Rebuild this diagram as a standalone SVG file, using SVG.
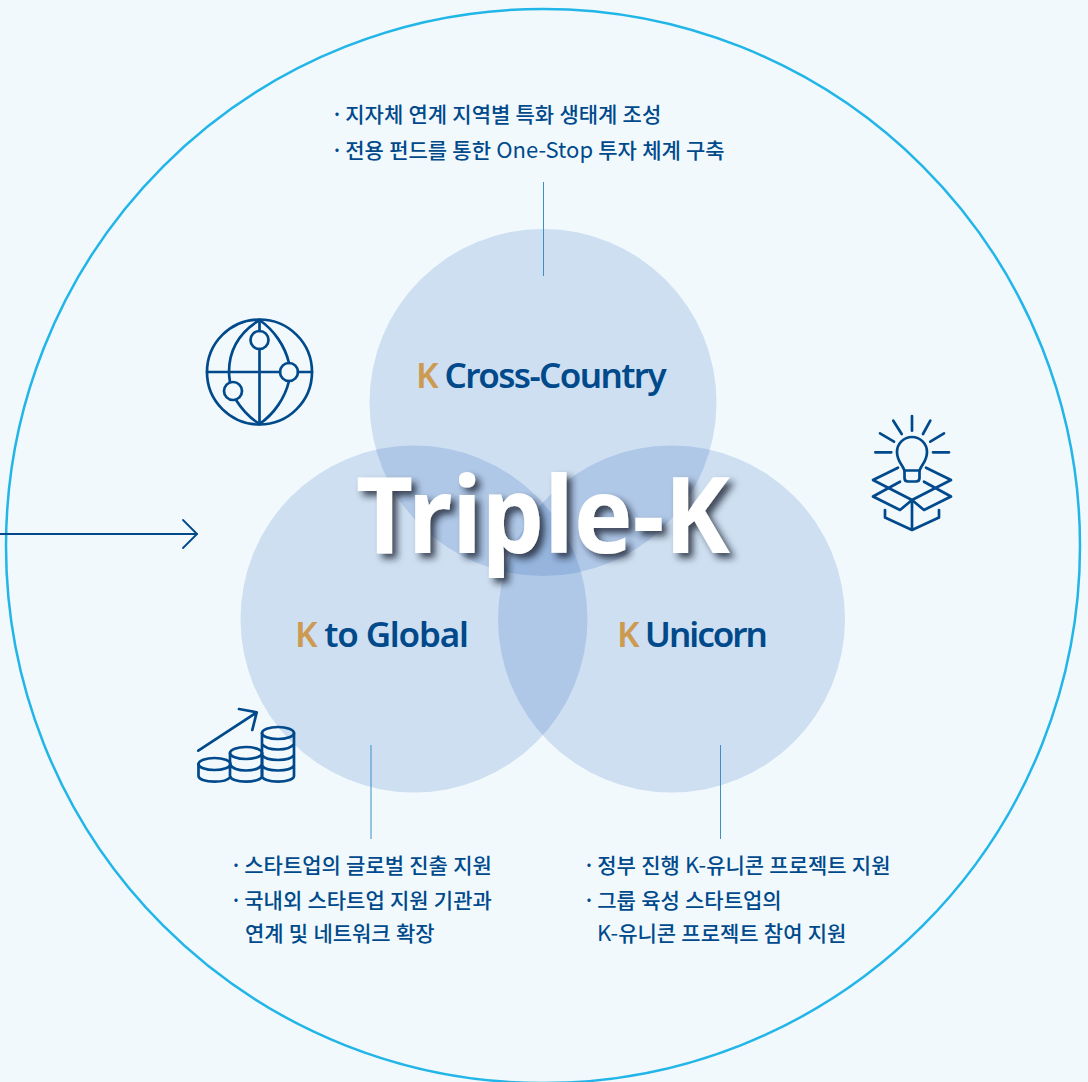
<svg xmlns="http://www.w3.org/2000/svg" width="1088" height="1082" viewBox="0 0 1088 1082">
<style>
.venn{fill:#0a4cad;fill-opacity:.15}
.ico{fill:none;stroke:#004a8c;stroke-width:2.7;stroke-linecap:round;stroke-linejoin:round}
.lead{stroke:#3b8fc6;stroke-width:1}
.t{font-family:"Noto Sans CJK KR","Noto Sans",sans-serif;font-size:21px;font-weight:500;fill:#004a8c;word-spacing:.5px}
.b{word-spacing:-2.500px}
.lat{font-weight:400;font-size:22px}
.h{font-family:"Noto Sans","Noto Sans CJK KR",sans-serif;font-size:35px;font-weight:600;fill:#004a8c;letter-spacing:-1.2px}
.k{fill:#cc9a50}
.title{font-family:"Noto Sans",sans-serif;font-size:106px;font-weight:700;fill:#fff}
</style>
<defs>
<filter id="sh" x="-10%" y="-20%" width="125%" height="150%"><feDropShadow dx="5" dy="5" stdDeviation="3.5" flood-color="#1a2430" flood-opacity=".8"/></filter>
</defs>
<rect width="1088" height="1082" fill="#f1f9fd"/>
<circle id="outer" cx="543" cy="546" r="537" fill="none" stroke="#22b5e8" stroke-width="2.5"/>
<g id="node-cross"><circle class="venn" cx="543" cy="402.500" r="173.500"/></g>
<g id="node-global"><circle class="venn" cx="414" cy="619" r="173.500"/></g>
<g id="node-unicorn"><circle class="venn" cx="671.500" cy="619" r="173.500"/></g>
<g id="connectors">
<line class="lead" x1="543.5" y1="182" x2="543.5" y2="276"/>
<line class="lead" x1="371" y1="745" x2="371" y2="839"/>
<line class="lead" x1="720.5" y1="745" x2="720.5" y2="839"/>
<g fill="none" stroke="#004a8c" stroke-width="1.8" stroke-linecap="round" stroke-linejoin="round"><path d="M0 534H197"/><path d="M183 520L197 534L183 548"/></g>
</g>
<g id="label-cross"><text class="h" x="416" y="388" style="letter-spacing:-1.6px"><tspan class="k">K</tspan> Cross-Country</text>
<text class="t" x="331" y="122"><tspan class="b">· </tspan>지자체 연계 지역별 특화 생태계 조성</text>
<text class="t" x="331" y="158"><tspan class="b">· </tspan>전용 펀드를 통한 <tspan class="lat">One-Stop</tspan> 투자 체계 구축</text></g>
<g id="label-global"><text class="h" x="295" y="647"><tspan class="k">K</tspan> to Global</text>
<text class="t" x="230" y="873"><tspan class="b">· </tspan>스타트업의 글로벌 진출 지원</text>
<text class="t" x="230" y="908"><tspan class="b">· </tspan>국내외 스타트업 지원 기관과</text>
<text class="t" x="245" y="941">연계 및 네트워크 확장</text></g>
<g id="label-unicorn"><text class="h" x="617" y="647" style="letter-spacing:-2px"><tspan class="k">K</tspan> Unicorn</text>
<text class="t" x="583" y="873"><tspan class="b">· </tspan>정부 진행 <tspan class="lat">K-</tspan>유니콘 프로젝트 지원</text>
<text class="t" x="583" y="908"><tspan class="b">· </tspan>그룹 육성 스타트업의</text>
<text class="t" x="597" y="941"><tspan class="lat">K-</tspan>유니콘 프로젝트 참여 지원</text></g>
<g id="title"><text class="title" x="356" y="553" textLength="374" lengthAdjust="spacingAndGlyphs" filter="url(#sh)">Triple-K</text></g>
<g id="icon-globe" class="ico">
<circle cx="259.500" cy="372" r="52.500"/>
<path d="M207 372H280M298 372H312"/>
<path d="M259.500 320V331M259.500 349V424"/>
<path d="M259.500 320C240 332 229 350 229 372C229 376 229.500 379 230 382M236 400C241 408 250 418 259.500 424"/>
<path d="M259.500 320C274 330 285 346 289 363M289 381C285 398 274 414 259.500 424"/>
<circle cx="259.500" cy="340" r="9"/><circle cx="289" cy="372" r="9"/><circle cx="233" cy="391" r="9"/>
</g>
<g id="icon-bulb" class="ico">
<path d="M912 416V430.700M893.300 420.700L901.700 434M930.300 420.700L923 434M880 433.300L894 441.700M944 433.300L930.300 441.700M875.300 452.300H891.300M933 452.300H949"/>
<path d="M904.500 470.500C902 464 897 461 897 452A15 15 0 0 1 927 452C927 461 922 464 919.500 470.500H904.500Z"/>
<path d="M904.500 470.500V478Q904.500 481.500 908 481.500H916Q919.500 481.500 919.500 478V470.500"/>
<path d="M898 467.700L873 480L912 500L951 480L926 467.700"/>
<path d="M900 481.700L873 496.500L900 510L912 500L924 510L951 496.500L924 481.700"/>
<path d="M885 510V517.500L912 530L939 517.500V510M912 500V530"/>
</g>
<g id="icon-coins" class="ico">
<path d="M198.300 750.700L256.700 712.300M239 709L256.700 712.300L252.300 730"/>
<ellipse cx="214.500" cy="764" rx="16" ry="6"/>
<path d="M198.500 764V776C198.500 779 205 781.700 214.500 781.700C222 781.700 228 780 230.500 777"/>
<ellipse cx="246" cy="753" rx="16" ry="6"/>
<path d="M230 753V776C230 779 237 781.700 246 781.700C255 781.700 262 779 262 776V753M230 764.500C232 768 238 770.500 246 770.500C254 770.500 260 768 262 764.500"/>
<ellipse cx="278" cy="733" rx="16" ry="6"/>
<path d="M262 733V776C262 779 269 781.700 278 781.700C287 781.700 294 779 294 776V733M262 744C264 747 270 749.500 278 749.500C286 749.500 292 747 294 744M262 755C264 758 270 760 278 760C286 760 292 758 294 755M262 765.500C264 768.500 270 770.500 278 770.500C286 770.500 292 768.500 294 765.500"/>
</g>
</svg>
